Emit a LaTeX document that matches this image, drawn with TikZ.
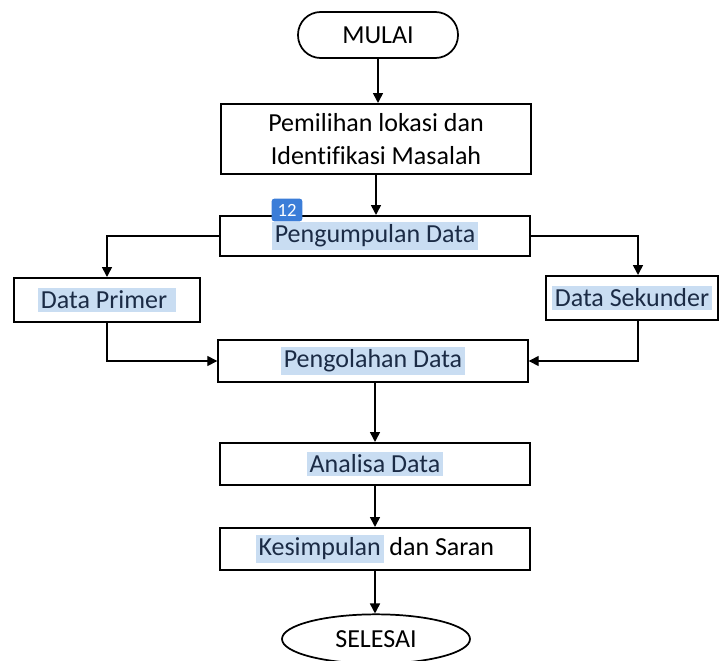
\documentclass[tikz,border=0pt]{standalone}
\usepackage{fontspec}
\setmainfont[Ligatures=NoCommon]{Carlito}
\usepackage{xcolor}
\usetikzlibrary{positioning,arrows.meta,shapes.geometric}
\definecolor{hlBlue}{HTML}{C9DDF2}
\definecolor{hlText}{HTML}{1B2B45}
\definecolor{badgeBlue}{HTML}{3B7DD8}
\newcommand{\hl}[1]{{\setlength{\fboxsep}{2pt}\colorbox{hlBlue}{\textcolor{hlText}{#1}}}}

\begin{document}
\begin{tikzpicture}[
  x=0.75pt, y=-0.75pt,
  font=\fontsize{19.5}{24.75}\selectfont,
  every node/.style={align=center},
  procbox/.style={rectangle, draw=black, line width=1.5pt, fill=white,
    minimum width=232pt, minimum height=31.5pt, inner sep=2pt},
  sidebox/.style={rectangle, draw=black, line width=1.5pt, fill=white,
    minimum height=33pt, inner sep=2pt},
  terminal/.style={rectangle, rounded corners=17pt, draw=black, line width=1.3pt,
    minimum width=120pt, minimum height=34.5pt},
  endoval/.style={ellipse, draw=black, line width=1.3pt,
    minimum width=141pt, minimum height=37pt},
  arr/.style={-{Triangle[length=7.5pt,width=7.5pt]}, line width=1.2pt},
  link/.style={line width=0.9pt}
]
\useasboundingbox (0,0) rectangle (720,660);

\node[terminal] (mulai) at (378,35) {MULAI};
\node[procbox, minimum height=52.5pt] (pilih) at (376,139)
  {Pemilihan lokasi dan\\Identifikasi Masalah};
\node[procbox, minimum height=30pt] (kumpul) at (375,236) {\hl{Pengumpulan Data}};
\node[fill=badgeBlue, rounded corners=2pt, text=white, font=\fontsize{14}{16}\selectfont,
  minimum width=23pt, minimum height=17pt, inner sep=1pt] (badge) at (287,210) {12};

\node[sidebox, minimum width=139pt] (primer) at (107,300) {\hl{Data Primer }};
\node[sidebox, minimum width=129pt] (sekunder) at (632,298) {\hl{Data Sekunder}};

\node[procbox] (olah) at (373,361) {\hl{Pengolahan Data}};
\node[procbox] (analisa) at (375,464) {\hl{Analisa Data}};
\node[procbox] (simpul) at (375,549) {\hl{Kesimpulan} dan Saran};
\node[endoval] (selesai) at (376,639) {SELESAI};

\draw[arr] (mulai) -- (mulai |- pilih.north);
\draw[arr] (pilih) -- (pilih |- kumpul.north);
\draw[arr] (kumpul.west) -| (primer.north);
\draw[arr] (kumpul.east) -| ([xshift=4.5pt]sekunder.north);
\draw[arr, link] (primer.south) |- (olah.west);
\draw[arr, link] ([xshift=4.5pt]sekunder.south) |- (olah.east);
\draw[arr] (olah.south -| analisa) -- (analisa);
\draw[arr] (analisa) -- (simpul);
\draw[arr] (simpul) -- (simpul |- selesai.north);

\end{tikzpicture}
\end{document}
